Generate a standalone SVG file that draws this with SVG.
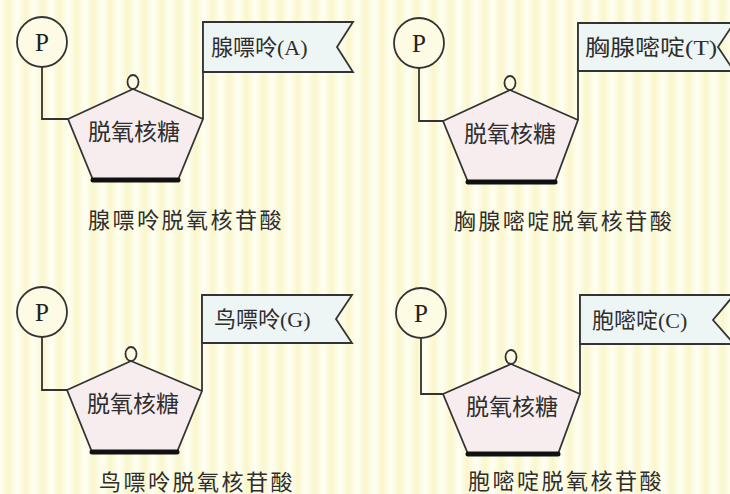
<svg xmlns="http://www.w3.org/2000/svg" width="730" height="494" viewBox="0 0 730 494">
<defs>
<linearGradient id="stripe" x1="0" y1="0" x2="1" y2="0">
<stop offset="0" stop-color="#fffff4"/>
<stop offset="0.5" stop-color="#f9f6cc"/>
<stop offset="1" stop-color="#fffff4"/>
</linearGradient>
<pattern id="bgp" x="0" y="0" width="17" height="494" patternUnits="userSpaceOnUse">
<rect x="0" y="0" width="17" height="494" fill="url(#stripe)"/>
</pattern>
<style>
.line{fill:none;stroke:#333;stroke-width:1.8;}
.pcircle{fill:#fdfbe4;stroke:#333;stroke-width:1.8;}
.ptext{font-family:"Liberation Serif","Noto Sans CJK SC",serif;font-size:25px;fill:#222;text-anchor:middle;}
.sugar{fill:#f7ecee;stroke:#333;stroke-width:1.8;stroke-linejoin:round;}
.bottom{stroke:#111;stroke-width:5;stroke-linecap:round;}
.ox{fill:#fdfbe4;stroke:#333;stroke-width:1.8;}
.stext{font-family:"Liberation Serif","Noto Sans CJK SC",serif;font-size:23px;fill:#2e2e2e;text-anchor:middle;}
.flag{fill:#eef5f5;stroke:#333;stroke-width:1.8;stroke-linejoin:miter;}
.ftext{font-family:"Liberation Serif","Noto Sans CJK SC",serif;font-size:22px;fill:#2e2e2e;}
.cap{font-family:"Liberation Serif","Noto Sans CJK SC",serif;font-size:22px;fill:#2e2e2e;text-anchor:middle;letter-spacing:2.5px;}
</style>
</defs>
<rect x="0" y="0" width="730" height="494" fill="url(#bgp)"/>

<g id="connectors">
<path class="line" d="M42,67 V119 H68"/>
<path class="line" d="M203,119 V22"/>
<path class="line" d="M419,68 V121 H443"/>
<path class="line" d="M578,120 V23"/>
<path class="line" d="M42,337 V390 H67"/>
<path class="line" d="M202,391 V295"/>
<path class="line" d="M421,339 V394 H443"/>
<path class="line" d="M580,394 V295"/>
</g>

<!-- Panel 1 -->
<g id="p1-phosphate">
<circle class="pcircle" cx="42" cy="42" r="25"/>
<text class="ptext" x="42" y="51">P</text>
</g>
<g id="p1-sugar">
<polygon class="sugar" points="68,119 133,89 203,119 178,180 93,180"/>
<line class="bottom" x1="93" y1="180" x2="178" y2="180"/>
<ellipse class="ox" cx="133" cy="82" rx="5.5" ry="7"/>
<text class="stext" x="134" y="140">脱氧核糖</text>
</g>
<g id="p1-base">
<polygon class="flag" points="203,22 353,22 337,47 353,72 203,72"/>
<text class="ftext" x="211" y="55">腺嘌呤(A)</text>
</g>
<g id="p1-caption">
<text class="cap" x="186" y="228">腺嘌呤脱氧核苷酸</text>
</g>

<!-- Panel 2 -->
<g id="p2-phosphate">
<circle class="pcircle" cx="419" cy="43" r="25"/>
<text class="ptext" x="419" y="52">P</text>
</g>
<g id="p2-sugar">
<polygon class="sugar" points="443,121 510,90 578,120 555,182 468,182"/>
<line class="bottom" x1="468" y1="182" x2="555" y2="182"/>
<ellipse class="ox" cx="510" cy="83" rx="5.5" ry="7"/>
<text class="stext" x="510" y="142">脱氧核糖</text>
</g>
<g id="p2-base">
<polygon class="flag" points="578,23 734,23 718,47 734,71 578,71"/>
<text class="ftext" x="585" y="55" textLength="132" lengthAdjust="spacingAndGlyphs">胸腺嘧啶(T)</text>
</g>
<g id="p2-caption">
<text class="cap" x="564" y="229">胸腺嘧啶脱氧核苷酸</text>
</g>

<!-- Panel 3 -->
<g id="p3-phosphate">
<circle class="pcircle" cx="42" cy="312" r="25"/>
<text class="ptext" x="42" y="321">P</text>
</g>
<g id="p3-sugar">
<polygon class="sugar" points="67,390 131,361 202,391 177,452 92,452"/>
<line class="bottom" x1="92" y1="452" x2="177" y2="452"/>
<ellipse class="ox" cx="131" cy="354" rx="5.5" ry="7"/>
<text class="stext" x="133" y="412">脱氧核糖</text>
</g>
<g id="p3-base">
<polygon class="flag" points="202,295 352,295 336,319 352,343 202,343"/>
<text class="ftext" x="214" y="327">鸟嘌呤(G)</text>
</g>
<g id="p3-caption">
<text class="cap" x="197" y="490">鸟嘌呤脱氧核苷酸</text>
</g>

<!-- Panel 4 -->
<g id="p4-phosphate">
<circle class="pcircle" cx="421" cy="313" r="25"/>
<text class="ptext" x="421" y="322">P</text>
</g>
<g id="p4-sugar">
<polygon class="sugar" points="443,394 511,364 580,394 558,454 468,454"/>
<line class="bottom" x1="468" y1="454" x2="558" y2="454"/>
<ellipse class="ox" cx="511" cy="357" rx="5.5" ry="7"/>
<text class="stext" x="512" y="415">脱氧核糖</text>
</g>
<g id="p4-base">
<polygon class="flag" points="580,295 734,295 713,320 734,344 580,344"/>
<text class="ftext" x="592" y="328">胞嘧啶(C)</text>
</g>
<g id="p4-caption">
<text class="cap" x="566" y="489">胞嘧啶脱氧核苷酸</text>
</g>
</svg>
